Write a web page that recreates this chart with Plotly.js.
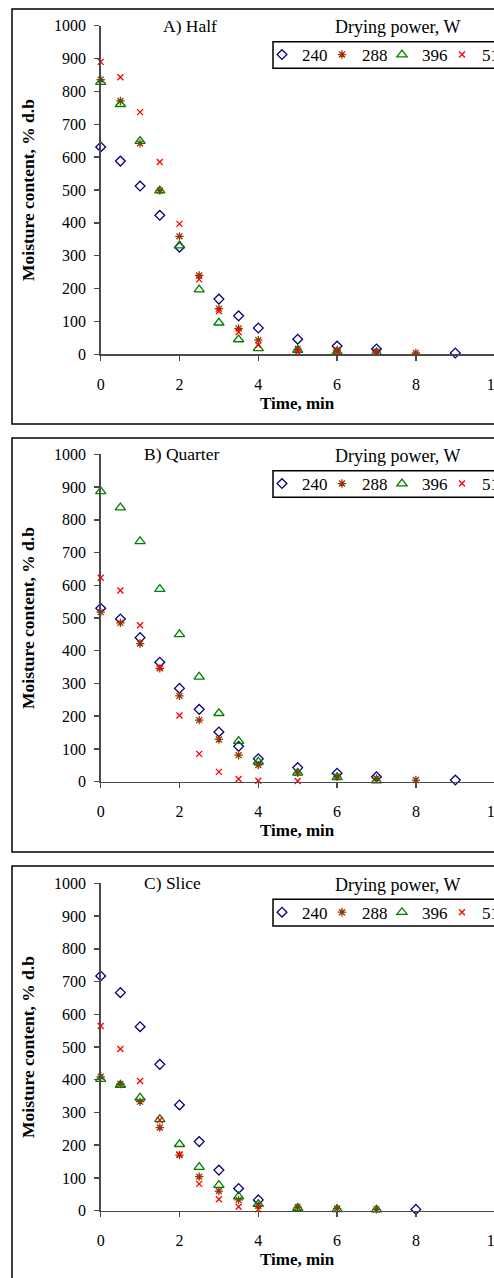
<!DOCTYPE html>
<html>
<head>
<meta charset="utf-8">
<script src="https://cdn.plot.ly/plotly-3.0.1.min.js"></script>
<style>html,body{margin:0;padding:0;background:#fff;overflow:hidden}</style>
</head>
<body>
<div id="chart" style="width:520px;height:1278px"></div>
<script>
// ---- data ----
var seriesNames = ["240", "288", "396", "510"];
var panelTitles = ["A) Half", "B) Quarter", "C) Slice"];
var xTickVals = [0, 2, 4, 6, 8, 10];
var yTickVals = [0, 100, 200, 300, 400, 500, 600, 700, 800, 900, 1000];

// A) Half
var t240A = [0, 0.5, 1, 1.5, 2, 3, 3.5, 4, 5, 6, 7, 9];
var m240A = [631, 588, 512, 423, 326, 168, 117, 80, 46, 25, 16, 4];
var t288A = [0, 0.5, 1, 1.5, 2, 2.5, 3, 3.5, 4, 5, 6, 7, 8];
var m288A = [836, 771, 642, 498, 359, 240, 139, 79, 43, 16, 13, 8, 4];
var t396A = [0, 0.5, 1, 1.5, 2, 2.5, 3, 3.5, 4, 5, 6, 7];
var m396A = [828, 761, 649, 498, 331, 197, 96, 45, 18, 13, 7, 5];
var t510A = [0, 0.5, 1, 1.5, 2, 2.5, 3, 3.5, 4, 5, 6, 7];
var m510A = [890, 843, 737, 585, 397, 228, 132, 68, 28, 7, 8, 5];

// B) Quarter
var t240B = [0, 0.5, 1, 1.5, 2, 2.5, 3, 3.5, 4, 5, 6, 7, 9];
var m240B = [530, 497, 440, 365, 285, 221, 152, 108, 70, 43, 26, 15, 5];
var t288B = [0, 0.5, 1, 1.5, 2, 2.5, 3, 3.5, 4, 5, 6, 7, 8];
var m288B = [518, 485, 422, 346, 262, 188, 129, 81, 51, 27, 15, 10, 5];
var t396B = [0, 0.5, 1, 1.5, 2, 2.5, 3, 3.5, 4, 5, 6, 7];
var m396B = [887, 837, 734, 588, 450, 320, 209, 124, 61, 27, 13, 3];
var t510B = [0, 0.5, 1, 1.5, 2, 2.5, 3, 3.5, 4, 5];
var m510B = [623, 584, 478, 349, 202, 85, 30, 8, 3, 2];

// C) Slice
var t240C = [0, 0.5, 1, 1.5, 2, 2.5, 3, 3.5, 4, 8];
var m240C = [717, 666, 562, 447, 323, 211, 124, 68, 33, 4];
var t288C = [0, 0.5, 1, 1.5, 2, 2.5, 3, 3.5, 4, 5, 6, 7];
var m288C = [409, 387, 333, 254, 170, 104, 60, 33, 15, 11, 7, 4];
var t396C = [0, 0.5, 1, 1.5, 2, 2.5, 3, 3.5, 4, 5, 6, 7];
var m396C = [402, 384, 345, 279, 203, 133, 78, 43, 20, 8, 4, 3];
var t510C = [0, 0.5, 1, 1.5, 2, 2.5, 3, 3.5, 4];
var m510C = [564, 494, 396, 277, 172, 82, 35, 12, 4];

// ---- styling ----
// The figure is wider than the 494 px window, so its right edge is cut off like the reference.
var W = 520, H = 1278;
var FONT = "Liberation Serif, Times New Roman, serif";
function fx(px) { return px / W; }
function fy(py) { return 1 - py / H; }

var styles = [
  {symbol: "diamond-open", color: "#000080", size: 7.5},
  {symbol: "asterisk-open", color: "#993300", size: 7},
  {symbol: "triangle-up-open", color: "#008000", size: 9},
  {symbol: "x-thin-open", color: "#FF0000", size: 6}
];

var panels = [
  {t: [t240A, t288A, t396A, t510A], m: [m240A, m288A, m396A, m510A], top: 25.7, bot: 354.3, frameTop: 9, frameBot: 424, titleX: 189.5, legTop: 41.7, legBot: 68.3},
  {t: [t240B, t288B, t396B, t510B], m: [m240B, m288B, m396B, m510B], top: 454.3, bot: 781.7, frameTop: 438, frameBot: 852, titleX: 181, legTop: 470.7, legBot: 497.3},
  {t: [t240C, t288C, t396C, t510C], m: [m240C, m288C, m396C, m510C], top: 883.3, bot: 1210.7, frameTop: 866, frameBot: 1300, titleX: 172, legTop: 899.3, legBot: 926}
];

var xLeft = 100.7, xRight = 494.7;
var traces = [];
var layout = {
  width: W, height: H,
  margin: {l: 0, r: 0, t: 0, b: 0},
  paper_bgcolor: "#fff", plot_bgcolor: "#fff",
  font: {family: FONT, color: "#000", size: 16},
  showlegend: true,
  shapes: [], annotations: []
};

panels.forEach(function (p, i) {
  var sfx = i === 0 ? "" : String(i + 1);
  var legendName = "legend" + sfx;
  for (var s = 0; s < 4; s++) {
    traces.push({
      type: "scatter", mode: "markers",
      x: p.t[s], y: p.m[s], name: seriesNames[s],
      xaxis: "x" + sfx, yaxis: "y" + sfx,
      legend: legendName,
      cliponaxis: false,
      marker: {symbol: styles[s].symbol, size: styles[s].size, color: styles[s].color,
               line: {color: styles[s].color, width: 1.3}},
      hoverinfo: "x+y+name"
    });
  }
  layout["xaxis" + sfx] = {
    domain: [fx(xLeft), fx(xRight)], range: [0, 10], anchor: "y" + sfx,
    tickvals: xTickVals, ticktext: xTickVals.map(String),
    showgrid: false, zeroline: false, showline: true,
    linecolor: "#4a4a4a", linewidth: 1.5,
    ticks: "outside", ticklen: 5, tickwidth: 1.5, tickcolor: "#4a4a4a",
    tickfont: {family: FONT, size: 16, color: "#000"},
    ticklabelstandoff: 10, fixedrange: true
  };
  layout["yaxis" + sfx] = {
    domain: [fy(p.bot), fy(p.top)], range: [0, 1000], anchor: "x" + sfx,
    tickvals: yTickVals, ticktext: yTickVals.map(String),
    showgrid: false, zeroline: false, showline: true,
    linecolor: "#4a4a4a", linewidth: 1.5,
    ticks: "outside", ticklen: 5, tickwidth: 1.5, tickcolor: "#4a4a4a",
    tickfont: {family: FONT, size: 16, color: "#000"},
    ticklabelstandoff: 5, fixedrange: true
  };
  layout[legendName] = {
    x: fx(262), y: fy((p.legTop + p.legBot) / 2), xanchor: "left", yanchor: "middle",
    orientation: "h", bgcolor: "rgba(0,0,0,0)", borderwidth: 0,
    font: {family: FONT, size: 17, color: "#000"},
    entrywidthmode: "pixels", entrywidth: 15, itemclick: false, itemdoubleclick: false
  };
  // outer frame of the panel
  layout.shapes.push({type: "rect", xref: "paper", yref: "paper",
    x0: fx(12), x1: 1.1, y0: fy(p.frameBot), y1: fy(p.frameTop),
    line: {color: "#000", width: 1.5}, fillcolor: "rgba(0,0,0,0)", layer: "below"});
  // legend box
  layout.shapes.push({type: "rect", xref: "paper", yref: "paper",
    x0: fx(273), x1: 1.1, y0: fy(p.legBot), y1: fy(p.legTop),
    line: {color: "#000", width: 1.5}, fillcolor: "#fff", layer: "below"});
  // panel title
  layout.annotations.push({xref: "paper", yref: "paper", x: fx(p.titleX), y: fy(p.top),
    text: panelTitles[i], showarrow: false, xanchor: "center", yanchor: "middle",
    font: {family: FONT, size: 17.5, color: "#000"}});
  // legend heading
  layout.annotations.push({xref: "paper", yref: "paper", x: fx(397), y: fy(p.top + 1.5),
    text: "Drying power, W", showarrow: false, xanchor: "center", yanchor: "middle",
    font: {family: FONT, size: 18, color: "#000"}});
  // x axis title
  layout.annotations.push({xref: "paper", yref: "paper", x: fx(297), y: fy(p.bot + 49),
    text: "<b>Time, min</b>", showarrow: false, xanchor: "center", yanchor: "middle",
    font: {family: FONT, size: 17, color: "#000"}});
  // y axis title
  layout.annotations.push({xref: "paper", yref: "paper", x: fx(28), y: fy((p.top + p.bot) / 2),
    text: "<b>Moisture content, % d.b</b>", showarrow: false, textangle: -90,
    xanchor: "center", yanchor: "middle",
    font: {family: FONT, size: 17.5, color: "#000"}});
});

Plotly.newPlot("chart", traces, layout, {displayModeBar: false, staticPlot: true});
</script>
</body>
</html>
